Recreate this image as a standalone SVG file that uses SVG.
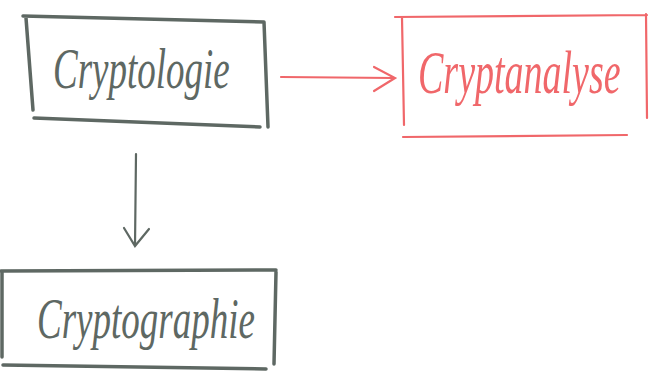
<svg xmlns="http://www.w3.org/2000/svg" width="668" height="383" viewBox="0 0 668 383">
<style>
.g{fill:none;stroke:#5e6863;stroke-width:3.5;stroke-linecap:round}
.r{fill:none;stroke:#f0676a;stroke-width:2.2;stroke-linecap:round}
.tg{font-family:"Liberation Serif",serif;font-style:italic;fill:#5e6863;font-size:37px}
.tr{font-family:"Liberation Serif",serif;font-style:italic;fill:#f0676a;font-size:38px}
</style>
<rect width="668" height="383" fill="#ffffff"/>
<g id="cryptologie">
<path class="g" d="M23,16 L264,22 M26,18 L33,110 M264,22 L268,127 M34,118 L260,127"/>
<text class="tg" transform="translate(53,88) scale(1,1.55)">Cryptologie</text>
</g>
<g id="cryptanalyse">
<path class="r" d="M395,17 L647,15 M402,18 L404,125 M646,14 L647,118 M403,137 L627,135"/>
<text class="tr" transform="translate(418,93) scale(1,1.6)">Cryptanalyse</text>
</g>
<g id="cryptographie">
<path class="g" d="M1,271 L276,270 M2,272 L2,357 M276,272 L274,364 M3,365 L266,369"/>
<text class="tg" transform="translate(37,338) scale(1,1.55)">Cryptographie</text>
</g>
<g id="connectors">
<path class="r" d="M281,77 L394,78 M374,67 L395,78 L374,91"/>
<path class="g" style="stroke-width:2.2" d="M136,154 L135,246 M124,228 L135,246 L149,229"/>
</g>
</svg>
